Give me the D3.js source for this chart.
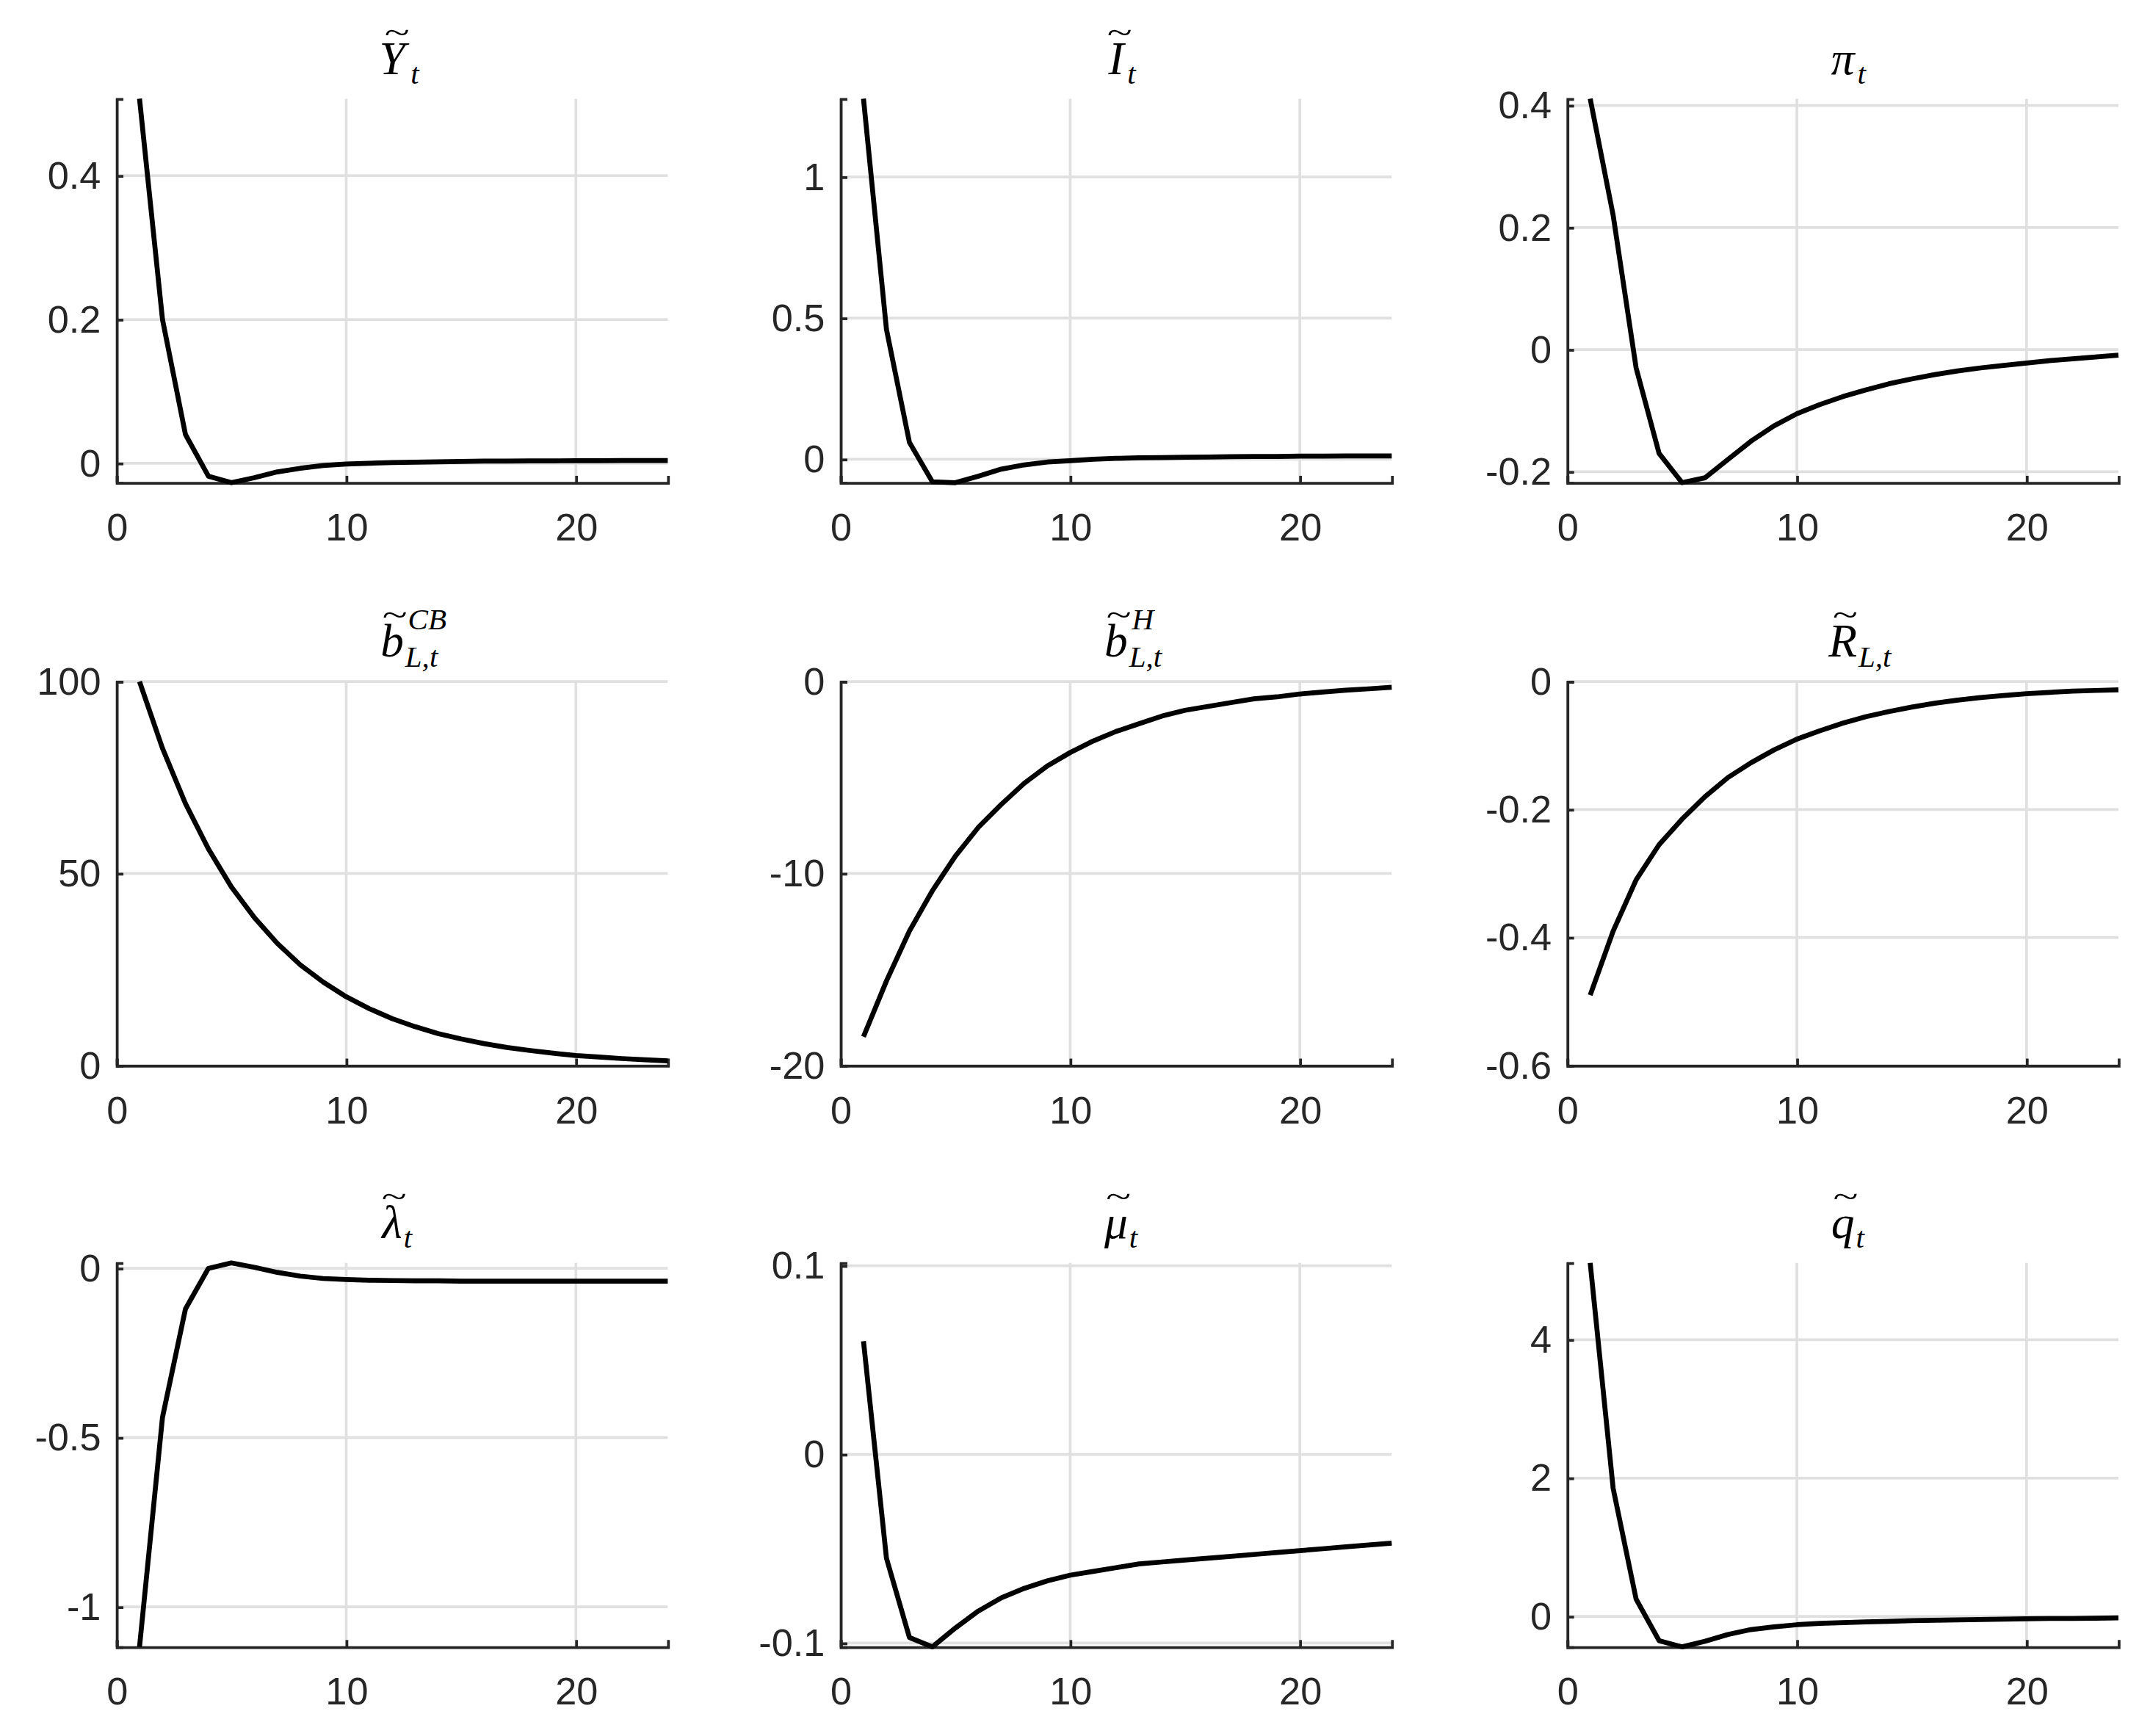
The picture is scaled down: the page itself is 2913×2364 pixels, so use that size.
<!DOCTYPE html>
<html><head><meta charset="utf-8">
<script src="https://cdn.jsdelivr.net/npm/d3@7"></script>
<style>body{margin:0;background:#fff}</style>
</head><body><div id="wrapper"></div>
<script>
const periods = d3.range(1, 25);
const yT  = [0.507,0.20,0.04,-0.018,-0.027,-0.02,-0.012,-0.007,-0.003,-0.001,0.0,0.001,0.0015,0.002,0.0025,0.003,0.003,0.0032,0.0034,0.0035,0.0036,0.0037,0.0038,0.0038];
const iT  = [1.277,0.46,0.06,-0.08,-0.083,-0.06,-0.035,-0.02,-0.01,-0.005,0,0.003,0.005,0.006,0.007,0.008,0.009,0.01,0.01,0.011,0.011,0.012,0.012,0.012];
const piT = [0.411,0.22,-0.03,-0.17,-0.218,-0.21,-0.18,-0.15,-0.125,-0.105,-0.09,-0.077,-0.066,-0.056,-0.048,-0.041,-0.035,-0.03,-0.026,-0.022,-0.018,-0.015,-0.012,-0.009];
const bCB = [100,82.6,68.2,56.4,46.5,38.5,31.8,26.2,21.7,17.9,14.8,12.2,10.1,8.3,6.9,5.7,4.7,3.9,3.2,2.6,2.2,1.8,1.5,1.2];
const bH  = [-18.5,-15.6,-13.0,-10.9,-9.1,-7.6,-6.4,-5.3,-4.4,-3.7,-3.1,-2.6,-2.2,-1.8,-1.5,-1.3,-1.1,-0.9,-0.8,-0.65,-0.55,-0.45,-0.38,-0.3];
const rL  = [-0.49,-0.39,-0.31,-0.255,-0.215,-0.18,-0.15,-0.127,-0.107,-0.09,-0.077,-0.065,-0.055,-0.047,-0.04,-0.034,-0.029,-0.025,-0.022,-0.019,-0.017,-0.015,-0.014,-0.013];
const lam = [-1.118,-0.44,-0.12,0.0,0.016,0.003,-0.012,-0.023,-0.03,-0.033,-0.035,-0.036,-0.037,-0.037,-0.038,-0.038,-0.038,-0.038,-0.038,-0.038,-0.038,-0.038,-0.038,-0.038];
const mu  = [0.06,-0.055,-0.097,-0.102,-0.092,-0.083,-0.076,-0.071,-0.067,-0.064,-0.062,-0.060,-0.058,-0.057,-0.056,-0.055,-0.054,-0.053,-0.052,-0.051,-0.050,-0.049,-0.048,-0.047];
const qT  = [5.11,1.85,0.25,-0.35,-0.44,-0.36,-0.26,-0.19,-0.15,-0.12,-0.10,-0.09,-0.08,-0.07,-0.06,-0.055,-0.05,-0.045,-0.04,-0.035,-0.03,-0.03,-0.025,-0.02];

const xTicks = [0,10,20];
const panels = [
  {data:yT,  dom:[-0.027,0.507], ticks:[0,0.2,0.4],  title:{base:"Y",tilde:true,sub:"t"}},
  {data:iT,  dom:[-0.083,1.277], ticks:[0,0.5,1],    title:{base:"I",tilde:true,sub:"t"}},
  {data:piT, dom:[-0.218,0.411], ticks:[-0.2,0,0.2,0.4], title:{base:"π",tilde:false,sub:"t"}},
  {data:bCB, dom:[0,100],        ticks:[0,50,100],   title:{base:"b",tilde:true,sub:"L,t",sup:"CB"}},
  {data:bH,  dom:[-20,0],        ticks:[-20,-10,0],  title:{base:"b",tilde:true,sub:"L,t",sup:"H"}},
  {data:rL,  dom:[-0.6,0],       ticks:[-0.6,-0.4,-0.2,0], title:{base:"R",tilde:true,sub:"L,t"}},
  {data:lam, dom:[-1.118,0.016], ticks:[-1,-0.5,0],  title:{base:"λ",tilde:true,sub:"t"}},
  {data:mu,  dom:[-0.102,0.1015],ticks:[-0.1,0,0.1], title:{base:"μ",tilde:true,sub:"t"}},
  {data:qT,  dom:[-0.44,5.11],   ticks:[0,2,4],      title:{base:"q",tilde:true,sub:"t"}}
];

const W = 1560, H = 1266;
const colX = [85, 613, 1143], pw = 402;
const rowY = [72, 497, 921], ph = 280;

const svg = d3.select("#wrapper").append("svg")
  .attr("width", 2913).attr("height", 2364)
  .attr("viewBox", `0 0 ${W} ${H}`);

panels.forEach((p, i) => {
  const g = svg.append("g").attr("transform", `translate(${colX[i%3]},${rowY[Math.floor(i/3)]})`);
  const x = d3.scaleLinear().domain([0,24]).range([0,pw]);
  const y = d3.scaleLinear().domain(p.dom).range([ph,0]);

  g.append("g").selectAll("line").data(xTicks).join("line")
    .attr("x1", d => x(d)).attr("x2", d => x(d)).attr("y1", 0).attr("y2", ph)
    .attr("stroke", "#e0e0e0").attr("stroke-width", 2);
  g.append("g").selectAll("line").data(p.ticks).join("line")
    .attr("y1", d => y(d)).attr("y2", d => y(d)).attr("x1", 0).attr("x2", pw)
    .attr("stroke", "#e0e0e0").attr("stroke-width", 2);

  const ax = g.append("g").attr("transform", `translate(0,${ph})`)
    .call(d3.axisBottom(x).tickValues(xTicks).tickSize(-5).tickFormat(d3.format("d")));
  const ay = g.append("g")
    .call(d3.axisLeft(y).tickValues(p.ticks).tickSize(-5).tickFormat(d => String(d)));
  [ax, ay].forEach(a => {
    a.select(".domain").attr("stroke", "#262626").attr("stroke-width", 2);
    a.selectAll(".tick line").attr("stroke", "#262626").attr("stroke-width", 2);
    a.selectAll("text").attr("font-family", "Helvetica, 'Liberation Sans', Arial, sans-serif")
      .attr("font-size", 28).attr("fill", "#262626");
  });
  ax.selectAll("text").attr("dy", "1.4em");
  ay.selectAll("text").attr("dx", "-0.3em");

  g.append("path").datum(p.data)
    .attr("fill", "none").attr("stroke", "#000").attr("stroke-width", 3.6)
    .attr("stroke-linejoin", "round")
    .attr("d", d3.line().x((d, k) => x(periods[k])).y(d => y(d)));

  // title
  const t = p.title, cx = pw/2, by = -18;
  const tg = g.append("g").attr("font-family", "'Liberation Serif', 'DejaVu Serif', serif")
    .attr("font-style", "italic").attr("fill", "#000");
  const base = tg.append("text").attr("x", cx).attr("y", by).attr("font-size", 34)
    .attr("text-anchor", "middle").text(t.base);
  const bb = base.node().getBBox();
  const mx = bb.x + bb.width/2 + 2;
  if (t.tilde) {
    tg.append("text").attr("x", mx).attr("y", bb.y + 8)
      .attr("font-size", 24).attr("font-style", "normal").attr("text-anchor", "middle")
      .attr("transform", `translate(${mx},0) scale(1.4,1) translate(${-mx},0)`)
      .text("~");
  }
  const rx = bb.x + bb.width + 1;
  tg.append("text").attr("x", rx).attr("y", by + 7).attr("font-size", 22).text(t.sub);
  if (t.sup) tg.append("text").attr("x", rx + 2).attr("y", by - 20).attr("font-size", 22).text(t.sup);
});
</script></body></html>
